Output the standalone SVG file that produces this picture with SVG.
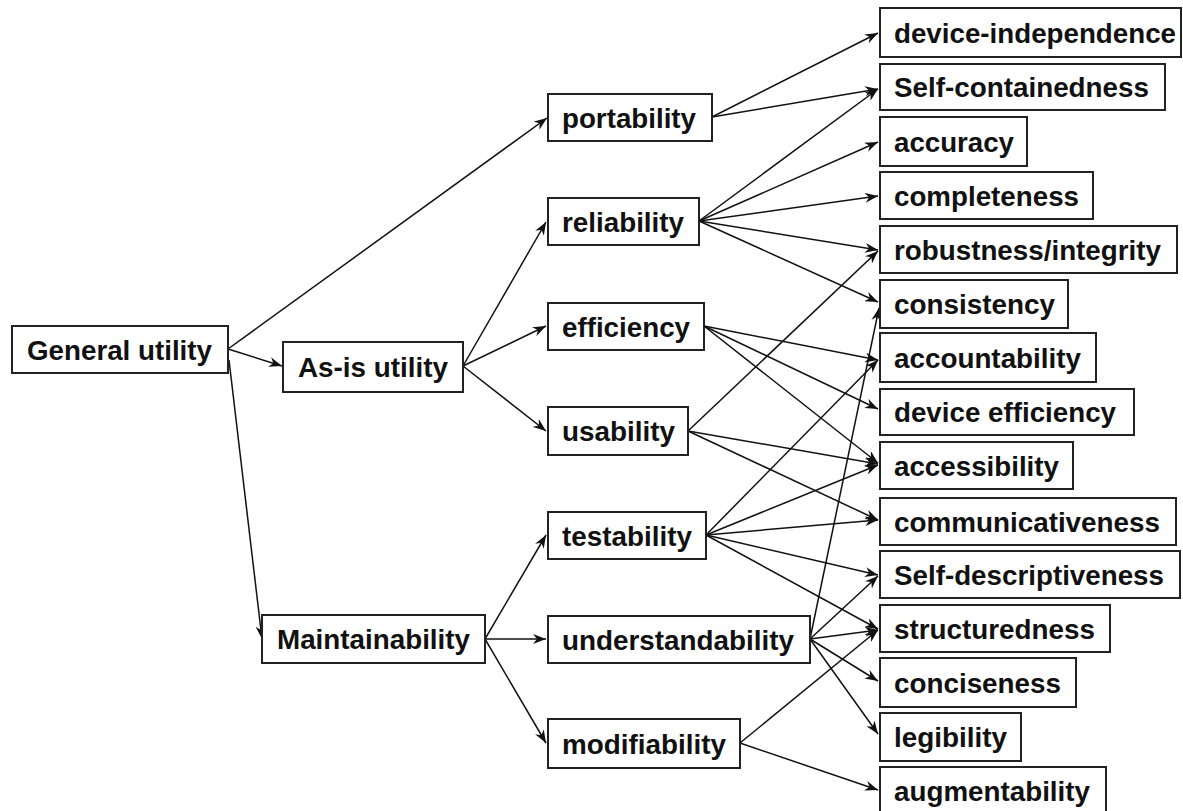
<svg xmlns="http://www.w3.org/2000/svg" width="1183" height="811" viewBox="0 0 1183 811">
<style>
.box{fill:#fff;stroke:#222;stroke-width:2}
.t{font-family:"Liberation Sans",Arial,sans-serif;font-weight:bold;font-size:28px;fill:#111}
.e{stroke:#111;stroke-width:1.5;fill:none;marker-end:url(#ah)}
</style>
<defs>
<marker id="ah" markerUnits="userSpaceOnUse" markerWidth="14" markerHeight="10" refX="13" refY="5" orient="auto">
<path d="M0,0 L13,5 L0,10 L4,5 Z" fill="#111"/>
</marker>
</defs>
<rect width="1183" height="811" fill="#fff"/>
<g id="connectors">
<line class="e" x1="228" y1="349" x2="547" y2="118"/>
<line class="e" x1="228" y1="349" x2="282" y2="366"/>
<line class="e" x1="229" y1="360" x2="262" y2="639"/>
<line class="e" x1="463" y1="366" x2="546" y2="222"/>
<line class="e" x1="463" y1="366" x2="546" y2="326"/>
<line class="e" x1="463" y1="366" x2="546" y2="431"/>
<line class="e" x1="485" y1="639" x2="546" y2="535"/>
<line class="e" x1="485" y1="639" x2="546" y2="639"/>
<line class="e" x1="485" y1="639" x2="546" y2="743"/>
<line class="e" x1="712" y1="117" x2="878" y2="33"/>
<line class="e" x1="712" y1="117" x2="878" y2="89"/>
<line class="e" x1="699" y1="221" x2="878" y2="89"/>
<line class="e" x1="699" y1="221" x2="878" y2="142"/>
<line class="e" x1="699" y1="221" x2="878" y2="196"/>
<line class="e" x1="699" y1="221" x2="878" y2="250"/>
<line class="e" x1="699" y1="221" x2="878" y2="302"/>
<line class="e" x1="704" y1="326" x2="878" y2="360"/>
<line class="e" x1="704" y1="326" x2="878" y2="409"/>
<line class="e" x1="704" y1="326" x2="878" y2="463"/>
<line class="e" x1="688" y1="431" x2="878" y2="251"/>
<line class="e" x1="688" y1="431" x2="878" y2="464"/>
<line class="e" x1="688" y1="431" x2="878" y2="520"/>
<line class="e" x1="706" y1="535" x2="878" y2="360"/>
<line class="e" x1="706" y1="535" x2="878" y2="465"/>
<line class="e" x1="706" y1="535" x2="878" y2="520"/>
<line class="e" x1="706" y1="535" x2="878" y2="575"/>
<line class="e" x1="706" y1="535" x2="878" y2="629"/>
<line class="e" x1="810" y1="639" x2="879" y2="308"/>
<line class="e" x1="810" y1="639" x2="878" y2="576"/>
<line class="e" x1="810" y1="639" x2="878" y2="630"/>
<line class="e" x1="810" y1="639" x2="878" y2="681"/>
<line class="e" x1="810" y1="639" x2="878" y2="734"/>
<line class="e" x1="740" y1="743" x2="878" y2="630"/>
<line class="e" x1="740" y1="743" x2="878" y2="790"/>
</g>
<g id="general-utility"><rect class="box" x="12" y="326" width="216" height="47"/><text class="t" x="27" y="360" textLength="185" lengthAdjust="spacingAndGlyphs">General utility</text></g>
<g id="as-is-utility"><rect class="box" x="283" y="342" width="180" height="50"/><text class="t" x="298" y="377" textLength="150" lengthAdjust="spacingAndGlyphs">As-is utility</text></g>
<g id="maintainability"><rect class="box" x="262" y="615" width="223" height="48"/><text class="t" x="277" y="649" textLength="193" lengthAdjust="spacingAndGlyphs">Maintainability</text></g>
<g id="portability"><rect class="box" x="548" y="94" width="164" height="47"/><text class="t" x="562" y="128" textLength="134" lengthAdjust="spacingAndGlyphs">portability</text></g>
<g id="reliability"><rect class="box" x="548" y="198" width="151" height="47"/><text class="t" x="562" y="232" textLength="122" lengthAdjust="spacingAndGlyphs">reliability</text></g>
<g id="efficiency"><rect class="box" x="548" y="303" width="156" height="47"/><text class="t" x="562" y="337" textLength="128" lengthAdjust="spacingAndGlyphs">efficiency</text></g>
<g id="usability"><rect class="box" x="548" y="407" width="140" height="48"/><text class="t" x="562" y="441" textLength="113" lengthAdjust="spacingAndGlyphs">usability</text></g>
<g id="testability"><rect class="box" x="548" y="512" width="158" height="47"/><text class="t" x="562" y="546" textLength="130" lengthAdjust="spacingAndGlyphs">testability</text></g>
<g id="understandability"><rect class="box" x="548" y="616" width="262" height="47"/><text class="t" x="562" y="650" textLength="232" lengthAdjust="spacingAndGlyphs">understandability</text></g>
<g id="modifiability"><rect class="box" x="548" y="719" width="192" height="49"/><text class="t" x="562" y="754" textLength="164" lengthAdjust="spacingAndGlyphs">modifiability</text></g>
<g id="device-independence"><rect class="box" x="880" y="8" width="301" height="49"/><text class="t" x="894" y="43" textLength="282" lengthAdjust="spacingAndGlyphs">device-independence</text></g>
<g id="self-containedness"><rect class="box" x="880" y="64" width="285" height="46"/><text class="t" x="894" y="97" textLength="255" lengthAdjust="spacingAndGlyphs">Self-containedness</text></g>
<g id="accuracy"><rect class="box" x="880" y="117" width="147" height="49"/><text class="t" x="894" y="152" textLength="120" lengthAdjust="spacingAndGlyphs">accuracy</text></g>
<g id="completeness"><rect class="box" x="880" y="172" width="213" height="47"/><text class="t" x="894" y="206" textLength="185" lengthAdjust="spacingAndGlyphs">completeness</text></g>
<g id="robustness-integrity"><rect class="box" x="880" y="226" width="297" height="47"/><text class="t" x="894" y="260" textLength="267" lengthAdjust="spacingAndGlyphs">robustness/integrity</text></g>
<g id="consistency"><rect class="box" x="880" y="280" width="188" height="48"/><text class="t" x="894" y="314" textLength="161" lengthAdjust="spacingAndGlyphs">consistency</text></g>
<g id="accountability"><rect class="box" x="880" y="333" width="216" height="49"/><text class="t" x="894" y="368" textLength="187" lengthAdjust="spacingAndGlyphs">accountability</text></g>
<g id="device-efficiency"><rect class="box" x="880" y="389" width="254" height="46"/><text class="t" x="894" y="422" textLength="222" lengthAdjust="spacingAndGlyphs">device efficiency</text></g>
<g id="accessibility"><rect class="box" x="880" y="442" width="193" height="47"/><text class="t" x="894" y="476" textLength="165" lengthAdjust="spacingAndGlyphs">accessibility</text></g>
<g id="communicativeness"><rect class="box" x="880" y="498" width="296" height="47"/><text class="t" x="894" y="532" textLength="266" lengthAdjust="spacingAndGlyphs">communicativeness</text></g>
<g id="self-descriptiveness"><rect class="box" x="880" y="551" width="300" height="47"/><text class="t" x="894" y="585" textLength="270" lengthAdjust="spacingAndGlyphs">Self-descriptiveness</text></g>
<g id="structuredness"><rect class="box" x="880" y="605" width="230" height="47"/><text class="t" x="894" y="639" textLength="201" lengthAdjust="spacingAndGlyphs">structuredness</text></g>
<g id="conciseness"><rect class="box" x="880" y="658" width="196" height="49"/><text class="t" x="894" y="693" textLength="167" lengthAdjust="spacingAndGlyphs">conciseness</text></g>
<g id="legibility"><rect class="box" x="880" y="713" width="141" height="48"/><text class="t" x="894" y="747" textLength="113" lengthAdjust="spacingAndGlyphs">legibility</text></g>
<g id="augmentability"><rect class="box" x="880" y="767" width="226" height="47"/><text class="t" x="894" y="801" textLength="196" lengthAdjust="spacingAndGlyphs">augmentability</text></g>
</svg>
